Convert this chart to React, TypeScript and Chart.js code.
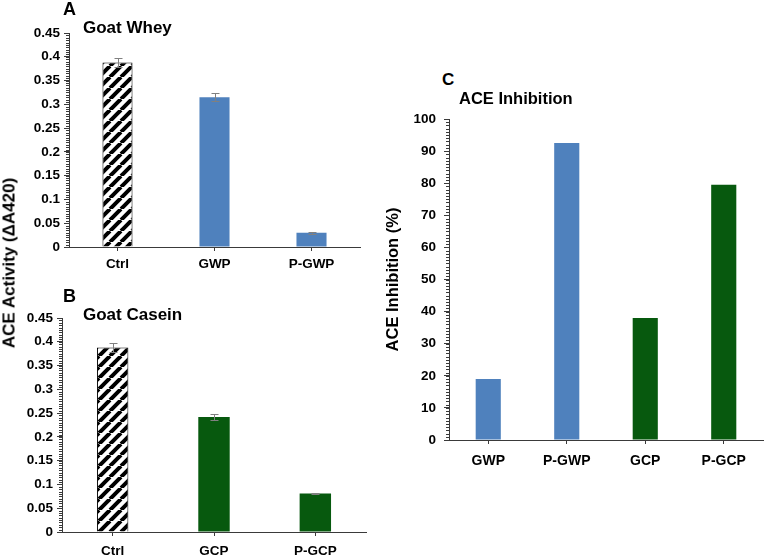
import React, { useEffect, useRef } from 'react';
import { Chart, registerables } from 'chart.js';
Chart.register(...registerables);

// ---- data ----
const catsA = ['Ctrl', 'GWP', 'P-GWP'];
const valsA = [0.388, 0.315, 0.03];
const errA = [0.01, 0.008, 0.002];

const catsB = ['Ctrl', 'GCP', 'P-GCP'];
const valsB = [0.388, 0.242, 0.081];
const errB = [0.01, 0.006, 0.002];

const catsC = ['GWP', 'P-GWP', 'GCP', 'P-GCP'];
const valsC = [19, 92.5, 38, 79.5];

const FONT = '"Liberation Sans", Arial, Helvetica, sans-serif';
const BLUE = '#4F81BD';
const GREEN = '#07590E';
const AXIS = '#3a3a3a';

function makeHatch(): CanvasPattern | string {
  const c = document.createElement('canvas');
  const s = 11;
  c.width = s;
  c.height = s;
  const g = c.getContext('2d');
  if (!g) return '#fff';
  g.fillStyle = '#fff';
  g.fillRect(0, 0, s, s);
  g.strokeStyle = '#000';
  g.lineWidth = 4;
  g.beginPath();
  for (let k = -1; k <= 1; k++) {
    g.moveTo(k * s, s);
    g.lineTo(k * s + s, 0);
  }
  g.stroke();
  return g.createPattern(c, 'repeat') || '#fff';
}

const minorTicks = {
  id: 'minorTicks',
  afterDraw(chart: any, _args: any, opts: any) {
    const y = chart.scales.y;
    if (!opts || !opts.step) return;
    const ctx = chart.ctx;
    ctx.save();
    ctx.strokeStyle = AXIS;
    ctx.lineWidth = 1;
    ctx.beginPath();
    const n = Math.round((y.max - y.min) / opts.step);
    for (let i = 0; i <= n; i++) {
      const v = y.min + i * opts.step;
      const py = Math.round(y.getPixelForValue(v)) + 0.5;
      ctx.moveTo(y.right - 3, py);
      ctx.lineTo(y.right, py);
    }
    ctx.stroke();
    ctx.restore();
  },
};

const errorBars = {
  id: 'errorBars',
  afterDatasetsDraw(chart: any, _args: any, opts: any) {
    if (!opts || !opts.errors) return;
    const errs: number[] = opts.errors;
    const meta = chart.getDatasetMeta(0);
    const y = chart.scales.y;
    const data = chart.data.datasets[0].data as number[];
    const ctx = chart.ctx;
    ctx.save();
    ctx.strokeStyle = '#808080';
    ctx.lineWidth = 1;
    meta.data.forEach((bar: any, i: number) => {
      const e = errs[i];
      if (!e) return;
      const x = Math.round(bar.x) + 0.5;
      const y1 = Math.round(y.getPixelForValue(data[i] + e)) + 0.5;
      const y2 = Math.round(y.getPixelForValue(data[i] - e)) + 0.5;
      ctx.beginPath();
      ctx.moveTo(x, y1);
      ctx.lineTo(x, y2);
      ctx.moveTo(x - 4, y1);
      ctx.lineTo(x + 4, y1);
      ctx.moveTo(x - 4, y2);
      ctx.lineTo(x + 4, y2);
      ctx.stroke();
    });
    ctx.restore();
  },
};

type PanelProps = {
  left: number;
  top: number;
  width: number;
  height: number;
  cats: string[];
  vals: number[];
  errs?: number[];
  colors: (string | 'hatch')[];
  max: number;
  step: number;
  minor: number;
  yW: number;
  xH: number;
  padding: { left: number; right: number; top: number; bottom: number };
  barPct: number;
  yPad: number;
  xPad: number;
  xFont: number;
  yFont: number;
  yTitle?: string;
};

function Panel(p: PanelProps) {
  const ref = useRef<HTMLCanvasElement | null>(null);
  useEffect(() => {
    if (!ref.current) return;
    const hatch = makeHatch();
    const bg = p.colors.map((c) => (c === 'hatch' ? hatch : c));
    const bw = p.colors.map((c) => (c === 'hatch' ? 1 : 0));
    const bc = p.colors.map((c) => (c === 'hatch' ? '#000' : c));
    const chart = new Chart(ref.current, {
      type: 'bar',
      data: {
        labels: p.cats,
        datasets: [
          {
            data: p.vals,
            backgroundColor: bg as any,
            borderColor: bc,
            borderWidth: bw,
            barPercentage: p.barPct,
            categoryPercentage: 1,
          },
        ],
      },
      plugins: [minorTicks, errorBars],
      options: {
        animation: false,
        responsive: false,
        maintainAspectRatio: false,
        layout: { padding: p.padding },
        plugins: {
          legend: { display: false },
          tooltip: { enabled: false },
          minorTicks: { step: p.minor },
          errorBars: { errors: p.errs },
        } as any,
        scales: {
          x: {
            grid: {
              offset: false,
              drawOnChartArea: false,
              drawTicks: true,
              tickLength: 4,
              color: AXIS,
            },
            border: { display: true, color: AXIS, width: 1 },
            ticks: {
              color: '#000',
              padding: p.xPad,
              maxRotation: 0,
              autoSkip: false,
              font: { family: FONT, size: p.xFont, weight: 'bold' },
            },
            afterFit: (s: any) => {
              s.height = p.xH;
            },
          },
          y: {
            min: 0,
            max: p.max,
            grid: {
              drawOnChartArea: false,
              drawTicks: true,
              tickLength: 5,
              color: AXIS,
            },
            border: { display: true, color: AXIS, width: 1 },
            ticks: {
              stepSize: p.step,
              color: '#000',
              padding: p.yPad,
              autoSkip: false,
              font: { family: FONT, size: p.yFont, weight: 'bold' },
              callback: (v: any) => String(+Number(v).toFixed(2)),
            },
            title: p.yTitle
              ? {
                  display: true,
                  text: p.yTitle,
                  color: '#000',
                  font: { family: FONT, size: 16.5, weight: 'bold' },
                  padding: { top: 4, bottom: 4 },
                }
              : { display: false },
            afterFit: (s: any) => {
              s.width = p.yW;
            },
          },
        },
      } as any,
    });
    return () => chart.destroy();
  }, []);
  return (
    <canvas
      ref={ref}
      width={p.width}
      height={p.height}
      style={{ position: 'absolute', left: p.left, top: p.top, width: p.width, height: p.height }}
    />
  );
}

const txt = (size: number): React.CSSProperties => ({
  position: 'absolute',
  fontFamily: FONT,
  fontWeight: 'bold',
  fontSize: size,
  lineHeight: 1,
  whiteSpace: 'nowrap',
  color: '#000',
});

export default function App() {
  return (
    <div
      style={{
        position: 'absolute',
        left: 0,
        top: 0,
        width: 764,
        height: 557,
        background: '#fff',
        overflow: 'hidden',
      }}
    >
      <Panel
        left={0}
        top={0}
        width={364}
        height={275}
        cats={catsA}
        vals={valsA}
        errs={errA}
        colors={['hatch', BLUE, BLUE]}
        max={0.45}
        step={0.05}
        minor={0.005}
        yW={69}
        xH={28}
        padding={{ left: 0, right: 4, top: 33, bottom: 0 }}
        barPct={0.31}
        yPad={4}
        xPad={5}
        xFont={13.5}
        yFont={13.5}
      />
      <Panel
        left={0}
        top={290}
        width={370}
        height={267}
        cats={catsB}
        vals={valsB}
        errs={errB}
        colors={['hatch', GREEN, GREEN]}
        max={0.45}
        step={0.05}
        minor={0.005}
        yW={62}
        xH={25}
        padding={{ left: 0, right: 4, top: 28, bottom: 0 }}
        barPct={0.31}
        yPad={4}
        xPad={7}
        xFont={13.5}
        yFont={13.5}
      />
      <Panel
        left={380}
        top={100}
        width={384}
        height={370}
        cats={catsC}
        vals={valsC}
        colors={[BLUE, BLUE, GREEN, GREEN]}
        max={100}
        step={10}
        minor={1}
        yW={69}
        xH={30}
        padding={{ left: 0, right: 1, top: 19, bottom: 0 }}
        barPct={0.32}
        yPad={8}
        xPad={9}
        xFont={14}
        yFont={13.5}
        yTitle="ACE Inhibition (%)"
      />
      <div style={{ ...txt(18), left: 63, top: 0 }}>A</div>
      <div style={{ ...txt(17), left: 83, top: 19 }}>Goat Whey</div>
      <div style={{ ...txt(18), left: 63, top: 287 }}>B</div>
      <div style={{ ...txt(17), left: 83, top: 306 }}>Goat Casein</div>
      <div style={{ ...txt(17), left: 442, top: 71 }}>C</div>
      <div style={{ ...txt(16.5), left: 459, top: 90 }}>ACE Inhibition</div>
      <div
        style={{
          ...txt(17),
          left: 9,
          top: 263,
          transform: 'translate(-50%, -50%) rotate(-90deg)',
        }}
      >
        ACE Activity (ΔA420)
      </div>
    </div>
  );
}
